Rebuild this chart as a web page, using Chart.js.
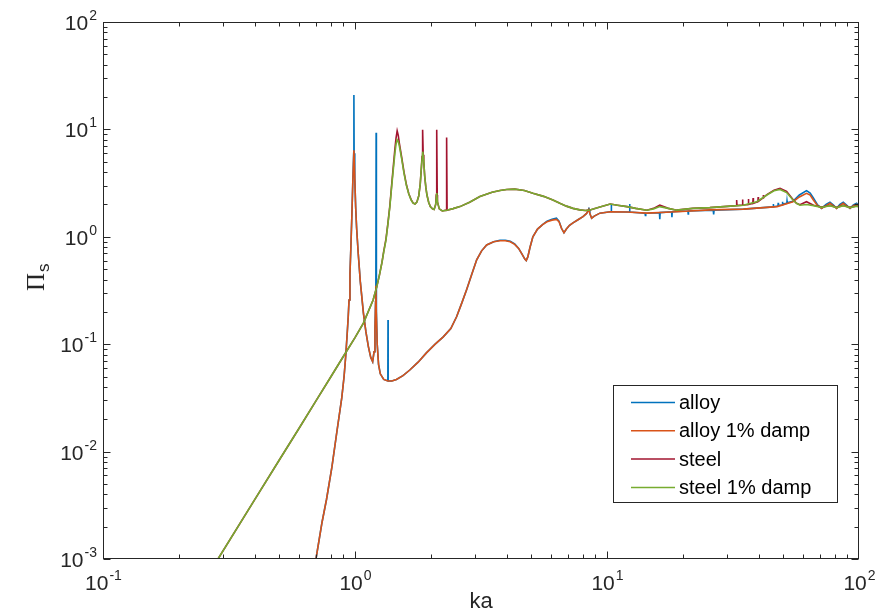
<!DOCTYPE html>
<html>
<head>
<meta charset="utf-8">
<title>Pi_s vs ka</title>
<script src="https://cdn.jsdelivr.net/npm/chart.js@4.4.1/dist/chart.umd.min.js"></script>
<style>
  html, body { margin: 0; padding: 0; background: #ffffff; }
  #piChart { display: block; }
</style>
</head>
<body>
<canvas id="piChart" width="879" height="612"></canvas>
<script>
// alloy, undamped (sharp resonance spikes)
const kaAlloy = [0.70, 0.74, 0.771, 0.81, 0.846, 0.886, 0.905, 0.918, 0.93, 0.94, 0.947, 0.955, 0.963, 0.972, 0.98, 0.988, 0.99, 0.992, 0.998, 1.006, 1.015, 1.03, 1.05, 1.08, 1.105, 1.13, 1.155, 1.175, 1.19, 1.2, 1.207, 1.21, 1.213, 1.216, 1.225, 1.24, 1.26, 1.3, 1.35, 1.352, 1.354, 1.4, 1.46, 1.55, 1.65, 1.78, 1.92, 2.08, 2.24, 2.4, 2.53, 2.65, 2.77, 2.9, 3.04, 3.18, 3.33, 3.55, 3.76, 3.95, 4.13, 4.3, 4.46, 4.6, 4.72, 4.78, 4.85, 4.95, 5.08, 5.3, 5.55, 5.78, 6.05, 6.3, 6.45, 6.6, 6.75, 6.9, 7.1, 7.33, 7.7, 8.03, 8.3, 8.45, 8.47, 8.49, 8.55, 8.69, 8.9, 9.37, 10.3, 10.38, 10.4, 10.42, 11.97, 12.28, 12.3, 12.32, 14.15, 14.2, 14.25, 16.15, 16.2, 16.25, 18.05, 18.1, 18.15, 20.95, 21.0, 21.05, 26.4, 26.5, 26.6, 34.8, 45.6, 45.7, 45.8, 47.7, 47.8, 47.9, 49.6, 49.7, 49.8, 51.7, 51.8, 51.9, 54.7, 58, 61.9, 64, 65.9, 68.5, 71.1, 74, 76.7, 79, 81.5, 84, 86.6, 89, 92.1, 95, 97.9, 100];
const piAlloy = [0.001, 0.0022, 0.0036, 0.0072, 0.0149, 0.0316, 0.05, 0.076, 0.12, 0.18, 0.258, 0.45, 0.8, 1.6, 3.2, 6.0, 20.9, 6.0, 3.5, 1.9, 1.2, 0.7, 0.38, 0.195, 0.13, 0.095, 0.075, 0.0687, 0.085, 0.136, 0.25, 0.35, 9.3, 0.2, 0.1, 0.065, 0.053, 0.047, 0.0455, 0.168, 0.0455, 0.0455, 0.047, 0.051, 0.0575, 0.068, 0.083, 0.1, 0.117, 0.14, 0.18, 0.24, 0.32, 0.44, 0.61, 0.74, 0.84, 0.9, 0.93, 0.93, 0.91, 0.86, 0.78, 0.69, 0.62, 0.6, 0.65, 0.8, 1.0, 1.18, 1.3, 1.4, 1.46, 1.49, 1.4, 1.2, 1.09, 1.18, 1.28, 1.35, 1.45, 1.54, 1.65, 1.78, 1.87, 1.8, 1.65, 1.49, 1.56, 1.66, 1.71, 1.71, 2.02, 1.71, 1.70, 1.70, 2.02, 1.70, 1.66, 1.58, 1.66, 1.68, 1.46, 1.68, 1.71, 1.52, 1.71, 1.74, 1.63, 1.74, 1.77, 1.62, 1.77, 1.81, 1.90, 2.02, 1.90, 1.93, 2.07, 1.95, 1.98, 2.12, 2.02, 2.05, 2.15, 2.07, 2.14, 2.45, 2.69, 2.55, 2.3, 1.98, 1.84, 2.0, 2.1, 1.98, 1.84, 2.0, 2.1, 1.98, 1.84, 1.98, 2.05, 1.95];

// alloy with 1% damping
const kaAlloyDamp = [0.70, 0.74, 0.771, 0.81, 0.846, 0.886, 0.905, 0.918, 0.93, 0.94, 0.947, 0.955, 0.963, 0.972, 0.98, 0.99, 0.998, 1.006, 1.015, 1.03, 1.05, 1.08, 1.105, 1.13, 1.155, 1.175, 1.19, 1.2, 1.207, 1.21, 1.215, 1.225, 1.24, 1.26, 1.3, 1.35, 1.4, 1.46, 1.55, 1.65, 1.78, 1.92, 2.08, 2.24, 2.4, 2.53, 2.65, 2.77, 2.9, 3.04, 3.18, 3.33, 3.55, 3.76, 3.95, 4.13, 4.3, 4.46, 4.6, 4.72, 4.78, 4.85, 4.95, 5.08, 5.3, 5.55, 5.78, 6.05, 6.3, 6.45, 6.6, 6.75, 6.9, 7.1, 7.33, 7.7, 8.03, 8.3, 8.47, 8.55, 8.69, 8.9, 9.37, 10.3, 11.97, 14.4, 18.9, 25.6, 34.8, 47.3, 54.7, 58, 61.9, 64, 65.9, 68.5, 71.1, 74, 76.7, 79, 81.5, 84, 86.6, 89, 92.1, 95, 97.9, 100];
const piAlloyDamp = [0.001, 0.0022, 0.0036, 0.0072, 0.0149, 0.0316, 0.05, 0.076, 0.12, 0.18, 0.258, 0.45, 0.8, 1.6, 3.2, 6.4, 3.5, 1.9, 1.2, 0.7, 0.38, 0.195, 0.13, 0.095, 0.075, 0.0687, 0.085, 0.136, 0.25, 0.35, 0.2, 0.1, 0.065, 0.053, 0.047, 0.0455, 0.0455, 0.047, 0.051, 0.0575, 0.068, 0.083, 0.1, 0.117, 0.14, 0.18, 0.24, 0.32, 0.44, 0.61, 0.74, 0.84, 0.9, 0.92, 0.92, 0.9, 0.85, 0.78, 0.69, 0.62, 0.6, 0.65, 0.8, 1.0, 1.18, 1.3, 1.38, 1.43, 1.45, 1.38, 1.2, 1.09, 1.18, 1.28, 1.35, 1.45, 1.54, 1.65, 1.8, 1.65, 1.49, 1.56, 1.66, 1.71, 1.70, 1.66, 1.71, 1.78, 1.81, 1.91, 2.12, 2.35, 2.54, 2.45, 2.2, 1.95, 1.84, 1.95, 2.05, 1.95, 1.84, 1.95, 2.05, 1.95, 1.84, 1.95, 2.0, 1.95];

// steel, undamped
const kaSteel = [0.286, 0.4, 0.5, 0.6, 0.7, 0.8, 0.9, 1.0, 1.08, 1.18, 1.22, 1.25, 1.28, 1.3, 1.327, 1.35, 1.375, 1.398, 1.42, 1.44, 1.455, 1.47, 1.485, 1.5, 1.53, 1.565, 1.6, 1.635, 1.67, 1.7, 1.73, 1.76, 1.79, 1.815, 1.835, 1.845, 1.855, 1.865, 1.875, 1.89, 1.91, 1.93, 1.96, 1.99, 2.03, 2.06, 2.09, 2.10, 2.11, 2.12, 2.125, 2.16, 2.22, 2.30, 2.31, 2.32, 2.45, 2.61, 2.85, 3.13, 3.5, 3.76, 4.0, 4.3, 4.7, 5.08, 5.6, 6.1, 6.5, 6.9, 7.33, 7.8, 8.2, 8.5, 9.3, 10.3, 11.0, 12.0, 13.0, 14.4, 15.3, 16.2, 17.5, 18.9, 21.9, 25.6, 30, 32.6, 32.7, 32.8, 34.4, 34.5, 34.6, 36.3, 36.4, 36.5, 37.9, 38.0, 38.1, 39.7, 39.8, 39.9, 41.6, 41.7, 41.8, 43.1, 46, 48.6, 51.6, 54.7, 56.5, 58.3, 61.9, 66, 71.1, 76.7, 81.5, 86.6, 92.1, 97.9, 100];
const piSteel = [0.001, 0.00357, 0.0083, 0.0165, 0.0297, 0.0492, 0.0773, 0.115, 0.157, 0.258, 0.343, 0.44, 0.58, 0.73, 0.95, 1.32, 1.95, 3.05, 4.6, 6.6, 8.3, 9.7, 8.8, 7.4, 5.6, 4.0, 3.05, 2.52, 2.22, 2.07, 2.02, 2.1, 2.4, 3.1, 4.5, 5.6, 9.9, 5.8, 5.0, 3.7, 2.9, 2.45, 2.1, 1.91, 1.82, 1.80, 2.0, 2.45, 9.9, 2.45, 2.1, 1.82, 1.74, 1.77, 8.4, 1.77, 1.83, 1.91, 2.1, 2.37, 2.6, 2.7, 2.76, 2.78, 2.7, 2.54, 2.38, 2.2, 2.05, 1.93, 1.84, 1.78, 1.76, 1.77, 1.88, 2.02, 1.97, 1.91, 1.84, 1.77, 1.84, 1.97, 1.84, 1.77, 1.84, 1.87, 1.92, 1.95, 2.2, 1.95, 1.97, 2.22, 1.97, 2.0, 2.25, 2.0, 2.05, 2.3, 2.05, 2.12, 2.35, 2.14, 2.3, 2.45, 2.32, 2.47, 2.72, 2.83, 2.65, 2.22, 2.05, 1.99, 2.12, 1.97, 1.89, 1.96, 1.88, 1.96, 1.88, 1.94, 1.9];

// steel with 1% damping
const kaSteelDamp = [0.286, 0.4, 0.5, 0.6, 0.7, 0.8, 0.9, 1.0, 1.08, 1.18, 1.22, 1.25, 1.28, 1.3, 1.327, 1.35, 1.375, 1.398, 1.42, 1.44, 1.455, 1.47, 1.485, 1.5, 1.53, 1.565, 1.6, 1.635, 1.67, 1.7, 1.73, 1.76, 1.79, 1.815, 1.835, 1.857, 1.875, 1.89, 1.91, 1.93, 1.96, 1.99, 2.03, 2.06, 2.09, 2.11, 2.125, 2.16, 2.22, 2.31, 2.45, 2.61, 2.85, 3.13, 3.5, 3.76, 4.0, 4.3, 4.7, 5.08, 5.6, 6.1, 6.5, 6.9, 7.33, 7.8, 8.2, 8.5, 9.3, 10.3, 11.0, 12.0, 13.0, 14.4, 15.3, 16.2, 17.5, 18.9, 21.9, 25.6, 30, 34.7, 39.3, 43.1, 46, 48.6, 51.6, 54.7, 56.5, 58.3, 62, 66, 71.1, 76.7, 81.5, 86.6, 92.1, 97.9, 100];
const piSteelDamp = [0.001, 0.00357, 0.0083, 0.0165, 0.0297, 0.0492, 0.0773, 0.115, 0.157, 0.258, 0.343, 0.44, 0.58, 0.72, 0.93, 1.3, 1.9, 2.93, 4.3, 6.0, 7.3, 8.0, 7.7, 7.0, 5.4, 3.9, 3.0, 2.5, 2.2, 2.06, 2.02, 2.1, 2.4, 3.1, 4.5, 6.2, 5.0, 3.7, 2.9, 2.45, 2.1, 1.91, 1.82, 1.80, 2.0, 2.56, 2.1, 1.82, 1.74, 1.77, 1.83, 1.91, 2.1, 2.37, 2.6, 2.7, 2.76, 2.78, 2.7, 2.54, 2.38, 2.2, 2.05, 1.93, 1.84, 1.78, 1.76, 1.77, 1.88, 2.02, 1.97, 1.91, 1.84, 1.77, 1.82, 1.91, 1.84, 1.77, 1.84, 1.87, 1.92, 1.97, 2.12, 2.45, 2.68, 2.76, 2.58, 2.2, 2.05, 1.97, 2.0, 1.95, 1.88, 1.95, 1.87, 1.95, 1.87, 1.93, 1.9];

const seriesLabels = ["alloy", "alloy 1% damp", "steel", "steel 1% damp"];
const seriesColors = ["#0072BD", "#D95319", "#A2142F", "#77AC30"];
const xExponents = [-1, 0, 1, 2];
const yExponents = [-3, -2, -1, 0, 1, 2];

const axisColor = "#262626";
const labelFont = "Liberation Sans, Arial, sans-serif";

function toPoints(ka, pi) {
  return ka.map((x, i) => ({ x: x, y: pi[i] }));
}

// "10" with a raised exponent, anchored at (x, y) = baseline of the base text
function drawPower(ctx, exp, x, y, align) {
  ctx.font = "21px " + labelFont;
  let baseW = ctx.measureText("10").width;
  ctx.font = "14px " + labelFont;
  let expW = ctx.measureText(String(exp)).width;
  let start = x;
  if (align === "center") start = x - (baseW + expW) / 2;
  if (align === "right") start = x - (baseW + expW);
  ctx.textAlign = "left";
  ctx.textBaseline = "alphabetic";
  ctx.font = "21px " + labelFont;
  ctx.fillText("10", start, y);
  ctx.font = "14px " + labelFont;
  ctx.fillText(String(exp), start + baseW + 1, y - 10);
}

const matlabAxes = {
  id: "matlabAxes",
  afterDraw(chart) {
    const ctx = chart.ctx;
    const area = chart.chartArea;
    const xs = chart.scales.x;
    const ys = chart.scales.y;
    const l = area.left + 0.5, r = area.right - 0.5;
    const t = area.top + 0.5, b = area.bottom - 0.5;

    ctx.save();
    ctx.strokeStyle = axisColor;
    ctx.fillStyle = axisColor;
    ctx.lineWidth = 1;
    ctx.strokeRect(l, t, r - l, b - t);

    // inward ticks on all four sides, decades plus 2..9 minors
    ctx.beginPath();
    for (let d = -1; d < 2; d++) {
      for (let m = 1; m <= 9; m++) {
        let v = m * Math.pow(10, d);
        let px = Math.round(xs.getPixelForValue(v)) + 0.5;
        let len = m === 1 ? 7 : 4;
        ctx.moveTo(px, b); ctx.lineTo(px, b - len);
        ctx.moveTo(px, t); ctx.lineTo(px, t + len);
      }
    }
    for (let d = -3; d < 2; d++) {
      for (let m = 1; m <= 9; m++) {
        let v = m * Math.pow(10, d);
        let py = Math.round(ys.getPixelForValue(v)) + 0.5;
        let len = m === 1 ? 7 : 4;
        ctx.moveTo(l, py); ctx.lineTo(l + len, py);
        ctx.moveTo(r, py); ctx.lineTo(r - len, py);
      }
    }
    ctx.stroke();

    xExponents.forEach((e) => {
      drawPower(ctx, e, xs.getPixelForValue(Math.pow(10, e)), area.bottom + 31, "center");
    });
    yExponents.forEach((e) => {
      drawPower(ctx, e, area.left - 7, ys.getPixelForValue(Math.pow(10, e)) + 8, "right");
    });

    // axis titles
    ctx.font = "22px " + labelFont;
    ctx.textAlign = "center";
    ctx.textBaseline = "alphabetic";
    ctx.fillText("ka", (area.left + area.right) / 2, 608);

    ctx.save();
    ctx.translate(44, 291);
    ctx.rotate(-Math.PI / 2);
    ctx.textAlign = "left";
    ctx.font = "25px Liberation Serif, Times New Roman, serif";
    ctx.fillText("\u03A0", 0, 0);
    let piW = ctx.measureText("\u03A0").width;
    ctx.font = "17px " + labelFont;
    ctx.fillText("s", piW + 1, 5);
    ctx.restore();

    // legend box inside the axes
    const lx = 613.5, ly = 385.5, lw = 224, lh = 117;
    ctx.fillStyle = "#ffffff";
    ctx.fillRect(lx, ly, lw, lh);
    ctx.strokeStyle = axisColor;
    ctx.strokeRect(lx, ly, lw, lh);
    ctx.font = "20px " + labelFont;
    ctx.textAlign = "left";
    ctx.textBaseline = "middle";
    seriesLabels.forEach((label, i) => {
      let rowY = 402.5 + i * 28.3;
      ctx.strokeStyle = seriesColors[i];
      ctx.lineWidth = 1.5;
      ctx.beginPath();
      ctx.moveTo(631, rowY);
      ctx.lineTo(675, rowY);
      ctx.stroke();
      ctx.fillStyle = "#000000";
      ctx.fillText(label, 679, rowY + 1);
    });
    ctx.restore();
  },
};

function buildChart() {
  const series = [
    toPoints(kaAlloy, piAlloy),
    toPoints(kaAlloyDamp, piAlloyDamp),
    toPoints(kaSteel, piSteel),
    toPoints(kaSteelDamp, piSteelDamp),
  ];
  new Chart(document.getElementById("piChart").getContext("2d"), {
    type: "line",
    data: {
      datasets: series.map((pts, i) => ({
        label: seriesLabels[i],
        data: pts,
        borderColor: seriesColors[i],
        backgroundColor: seriesColors[i],
        borderWidth: 1.6,
        pointRadius: 0,
        tension: 0,
        fill: false,
        // later series sit on top
        order: series.length - i,
      })),
    },
    options: {
      responsive: false,
      animation: false,
      devicePixelRatio: 1,
      events: [],
      layout: {
        padding: { left: 103, right: 20, top: 22, bottom: 53 },
      },
      plugins: {
        legend: { display: false },
        tooltip: { enabled: false },
      },
      scales: {
        x: { type: "logarithmic", min: 0.1, max: 100, display: false },
        y: { type: "logarithmic", min: 0.001, max: 100, display: false },
      },
    },
    plugins: [matlabAxes],
  });
}

buildChart();
</script>
</body>
</html>
